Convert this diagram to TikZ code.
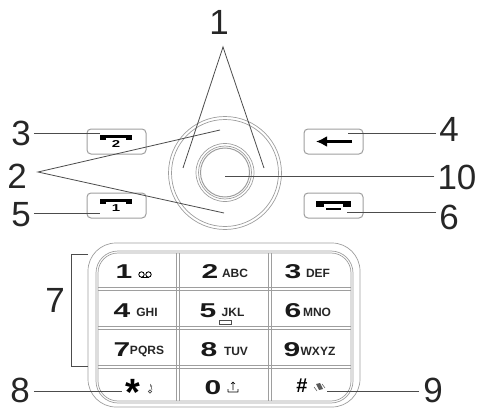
\documentclass[tikz,border=0pt]{standalone}
\usepackage{fontspec}
\setmainfont{Liberation Sans}
\newfontfamily\keyfont[FakeStretch=1.5]{Liberation Sans Bold}
\newfontfamily\letterfont{Liberation Sans Bold}
\usetikzlibrary{arrows.meta, positioning}
\definecolor{frame}{gray}{0.62}
\definecolor{leader}{gray}{0.3}
\tikzstyle{num} = [font=\fontsize{35}{35}\selectfont, text=black!85, inner sep=0pt]
\tikzstyle{softkey} = [rectangle, draw=frame, line width=1pt, rounded corners=4pt, minimum width=59pt, minimum height=25pt, inner sep=0pt]
\tikzstyle{ring} = [draw=frame, line width=0.7pt]
\tikzstyle{line} = [draw=leader, line width=0.8pt]
\tikzstyle{digit} = [font=\keyfont\fontsize{20}{20}\selectfont, inner sep=0pt, text=black!90]
\tikzstyle{letters} = [font=\letterfont\fontsize{12}{12}\selectfont, inner sep=0pt, text=black!85]
\tikzstyle{handset} = [fill=black, draw=none]

\begin{document}
\begin{tikzpicture}[x=1pt, y=-1pt]
\useasboundingbox (0,0) rectangle (477,412);

% navigation ring
\node[ring, circle, minimum size=113pt, inner sep=0pt] (navout) at (225,173) {};
\node[ring, circle, minimum size=107pt, inner sep=0pt] (navin) at (225,173) {};
\node[ring, circle, minimum size=58pt, inner sep=0pt] (okout) at (225,172.5) {};
\node[ring, circle, minimum size=53pt, inner sep=0pt] (okmid) at (225,172.5) {};
\node[ring, circle, minimum size=49pt, inner sep=0pt, line width=1pt] (okin) at (225,172.5) {};

% soft keys
\node[softkey] (keyleft) at (116.5,141.5) {};
\node[softkey] (keyone) at (116.5,205.5) {};
\node[softkey] (keyback) at (333.5,141.5) {};
\node[softkey] (keyend) at (333.5,205.5) {};

% icons on the soft keys
\foreach \ypos/\txt in {137/2,201/1} {
  \fill[handset] (100,\ypos-2) rectangle (132,\ypos+0.6);
  \fill[handset] (100,\ypos-2) rectangle (106,\ypos+2.5);
  \fill[handset] (126,\ypos-2) rectangle (132,\ypos+2.5);
  \node[font=\keyfont\fontsize{10}{10}\selectfont, inner sep=0pt] at (116,\ypos+7.5) {\txt};
}
\draw[-{Latex[length=11pt,width=11pt]}, line width=2.4pt, black] (352,141.5) -- (316,141.5);
\fill[handset] (316,201) rectangle (351,204);
\fill[handset] (316,201) rectangle (324,207);
\fill[handset] (343,201) rectangle (351,207);
\draw[black, line width=1.4pt] (326,209) -- (341,209);

% keypad frame
\draw[ring, rounded corners=28pt] (88,243) rectangle (360,407);
\draw[ring, rounded corners=22pt] (96,251) rectangle (353,403);
\draw[ring, rounded corners=20pt] (98,253) rectangle (351,401);

% keypad dividers
\foreach \xpos in {176.5,179.5,268.5,271.5} {
  \draw[ring] (\xpos,253) -- (\xpos,401);
}
\foreach \ypos in {287.5,290.5,326.5,329.5,365.5,368.5} {
  \draw[ring] (98,\ypos) -- (351,\ypos);
}

% keypad texts
\foreach \xd/\xl/\ypos/\dg/\txt in {
  210/235/272/2/ABC, 293/318/272/3/DEF,
  122/147/311/4/GHI, 208/233/311/5/JKL, 293/317/311/6/MNO,
  122/147/350/7/PQRS, 209/236/350/8/TUV, 292/318/350/9/WXYZ} {
  \node[digit] at (\xd,\ypos) {\dg};
  \node[letters] at (\xl,\ypos+1) {\txt};
}
\node[digit] (one) at (124,272) {1};
\draw[line width=0.9pt] (141.5,274.5) circle (2.7pt) (148.5,274.5) circle (2.7pt);
\draw[line width=0.9pt] (141,277.2) -- (149,277.2);
\draw[black!70, line width=0.7pt] (219,320.5) rectangle (231,324);
\node[font=\bfseries\fontsize{38}{38}\selectfont, inner sep=0pt] (star) at (133,392) {*};
\draw[black!70, line width=0.6pt] (152,390) -- (150.5,384) (150,386) -- (152,386);
\draw[black!70, line width=0.6pt] (150,391.5) circle (1.6pt);
\node[digit] (zero) at (213,388) {0};
\draw[line width=0.7pt] (233,382) -- (233,390) (231,384) -- (233,382) -- (235,384) (228,392) -- (238,392) (228,392) -- (228,389) (238,392) -- (238,389);
\node[font=\bfseries\fontsize{20}{20}\selectfont, inner sep=0pt] (hash) at (302,386) {\#};
\fill[black!65] (316,384) -- (320,383) -- (323,389) -- (319,390) -- cycle;
\draw[black!60, line width=0.6pt] (322,384) -- (325,388) (314,387) -- (317,391);

% labels
\node[num] (lab1) at (219,22) {1};
\node[num] (lab2) at (17,176) {2};
\node[num] (lab3) at (21,133) {3};
\node[num] (lab4) at (449,129) {4};
\node[num] (lab5) at (21,215) {5};
\node[num] (lab6) at (449,217) {6};
\node[num] (lab7) at (55,300) {7};
\node[num] (lab8) at (20,390) {8};
\node[num] (lab9) at (433,390) {9};
\node[num] (lab10) at (457,177) {10};

% free ends of the leader lines
\coordinate (apex1) at (223,47);
\coordinate (apex2) at (38,172);
\coordinate (navleft) at (183,168);
\coordinate (navright) at (264,168);
\coordinate (navup) at (220,130);
\coordinate (navdown) at (224,213);
\coordinate (end3) at (100,133);
\coordinate (end5) at (100,213);
\coordinate (end4) at (348,133);
\coordinate (end6) at (347,212);
\coordinate (end8) at (122,391);
\coordinate (end9) at (327,391);
\coordinate (end10) at (225,176);
\coordinate (brtop) at (88,254);
\coordinate (brbot) at (88,366);

\draw[line] (navleft) -- (apex1) -- (navright);
\draw[line] (navup) -- (apex2) -- (navdown);
\draw[line] (lab3.east |- end3) ++(3,0) -- (end3);
\draw[line] (lab5.east |- end5) ++(3,0) -- (end5);
\draw[line] (lab4.west |- end4) ++(-3,0) -- (end4);
\draw[line] (lab6.west |- end6) ++(-3,0) -- (end6);
\draw[line] (lab10.west |- end10) ++(-3,0) -- (end10);
\draw[line] (lab8.east |- end8) ++(4,0) -- (end8);
\draw[line] (lab9.west |- end9) ++(-4,0) -- (end9);
\draw[line] (brtop) -- (71,254) -- (71,366) -- (brbot);

\end{tikzpicture}
\end{document}
